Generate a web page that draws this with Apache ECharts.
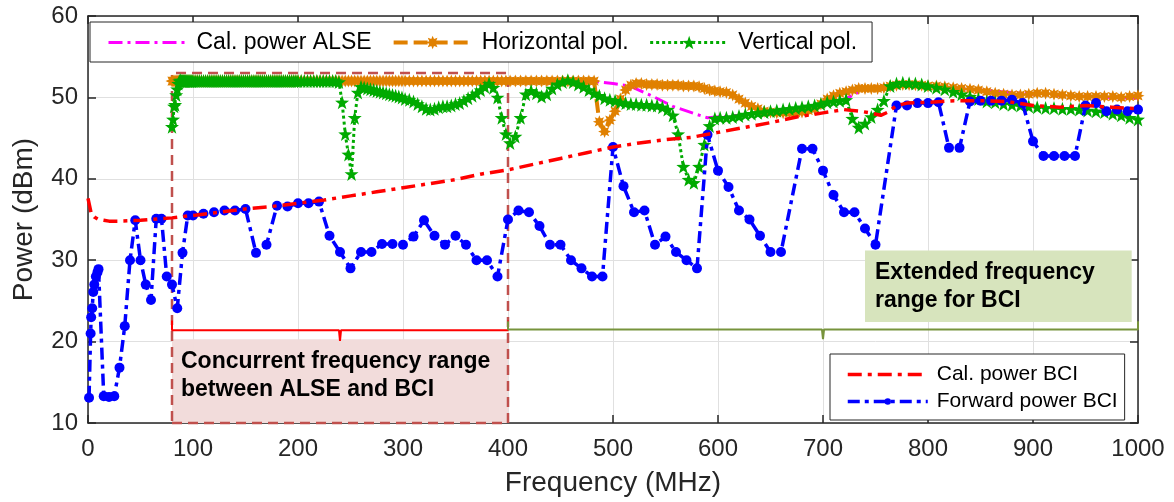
<!DOCTYPE html>
<html>
<head>
<meta charset="utf-8">
<script src="https://cdn.jsdelivr.net/npm/echarts@6/dist/echarts.min.js"></script>
<style>
  html, body { margin: 0; padding: 0; background: #ffffff; }
  #chart { width: 1174px; height: 502px; }
</style>
</head>
<body>
<div id="chart"></div>
<script>
// ---------- BCI: calibration power (MHz, dBm) ----------
const bciCalFreq = [0,3,6,10,15,20,30,40,50,60,70,80,90,100,
  125,150,175,200,225,250,275,300,325,350,375,400,
  425,450,475,500,525,550,575,600,625,650,675,700,
  720,735,745,755,762,770,780,800,
  825,850,875,900,925,950,975,1000];
const bciCalPower = [37.6,35.8,35.3,35.0,34.9,34.8,34.8,34.85,34.9,35.0,35.1,35.2,35.35,35.5,
  35.9,36.3,36.6,37.0,37.4,37.9,38.4,38.9,39.4,39.9,40.6,41.1,
  41.8,42.5,43.2,43.9,44.4,44.8,45.1,45.7,46.3,46.9,47.6,48.1,
  48.5,48.3,48.1,47.8,48.2,49.0,49.3,49.4,
  49.6,49.6,49.5,49.0,48.8,49.0,48.8,48.6];

// ---------- BCI: forward power (MHz, dBm) ----------
const bciFwdFreq = [1,2.5,3,4,5,6,7.5,9,10,
  15,20,25,30,35,40,45,50,55,60,65,70,75,80,85,90,95,100,
  110,120,130,140,150,160,170,180,190,200,210,220,230,240,250,260,270,280,290,300,
  310,320,330,340,350,360,370,380,390,400,410,420,430,440,450,460,470,480,490,500,
  510,520,530,540,550,560,570,580,590,600,610,620,630,640,650,660,
  680,690,700,710,720,730,740,750,
  770,780,790,800,810,820,830,840,850,860,870,880,890,900,910,920,930,940,950,960,970,980,990,1000];
const bciFwdPower = [13.1,21.0,23.0,24.1,26.1,27.0,28.0,28.5,28.9,
  13.3,13.2,13.3,16.8,21.9,30.0,34.9,30.0,27.0,25.1,35.1,35.1,28.0,27.0,24.1,30.9,35.5,35.5,
  35.7,35.9,36.1,36.1,36.3,30.9,31.9,36.7,36.6,37.0,37.0,37.2,33.0,31.0,29.0,31.0,31.0,32.0,32.0,31.9,
  32.9,34.9,33.0,31.9,33.0,31.9,30.0,30.0,28.0,35.0,36.1,35.9,34.2,31.9,31.9,30.0,29.0,28.0,28.0,43.9,
  39.1,35.9,36.1,31.9,32.9,31.0,30.0,29.0,45.4,41.0,39.0,36.1,35.0,33.0,31.0,31.0,
  43.7,43.7,41.0,38.0,35.9,35.9,33.9,31.9,
  49.0,49.0,49.3,49.3,49.4,43.8,43.8,49.5,49.6,49.6,49.6,49.7,49.3,44.6,42.8,42.8,42.8,42.8,49.0,49.3,48.3,48.5,48.3,48.5];

// ---------- ALSE: calibration power (MHz, dBm) ----------
const alseCalFreq = [80,150,250,350,450,480,500,516,540,557,580,590,620,650,680,700,720,730,740,750,770,800,850,900,950,1000];
const alseCalPower = [52.0,52.0,52.0,52.0,52.0,52.0,51.7,51.4,50.0,48.9,47.9,47.5,47.8,48.3,48.7,49.0,49.7,50.4,51.0,51.3,51.5,51.3,50.9,50.4,50.1,49.9];

// ---------- ALSE: measured antenna polarisations (MHz, dBm) ----------
const alseFreq = [
  80,81,82,83,84,85,86,87,88,89,90,91,92,93,94,95,96,97,98,99,100,
  102,104,106,108,110,112,114,116,118,120,122,124,126,128,130,132,134,136,138,140,142,144,146,148,150,
  152,154,156,158,160,162,164,166,168,170,172,174,176,178,180,182,184,186,188,190,192,194,196,198,200,
  203,206,209,212,215,218,221,224,227,230,233,236,239,242,245,248,251,254,257,260,263,266,269,272,275,278,281,284,287,290,293,296,299,302,
  306,310,314,318,322,326,330,334,338,342,346,350,354,358,362,366,370,374,378,382,386,390,394,398,402,
  407,412,417,422,427,432,437,442,447,452,457,462,467,472,477,482,487,492,497,502,
  507,512,517,522,527,532,537,542,547,552,557,562,567,572,577,582,587,592,597,602,
  608,614,620,626,632,638,644,650,656,662,668,674,680,686,692,698,704,710,716,722,728,734,740,746,752,758,764,770,776,782,788,794,800,
  808,816,824,832,840,848,856,864,872,880,888,896,904,912,920,928,936,944,952,960,968,976,984,992,1000];

const horizontalPol = [
  52.0,52.0,52.0,52.0,52.0,52.0,52.0,52.0,52.0,52.0,52.0,52.0,52.0,52.0,52.0,52.0,52.0,52.0,52.0,52.0,52.0,
  52.0,52.0,52.0,52.0,52.0,52.0,52.0,52.0,52.0,52.0,52.0,52.0,52.0,52.0,52.0,52.0,52.0,52.0,52.0,52.0,52.0,52.0,52.0,52.0,52.0,
  52.0,52.0,52.0,52.0,52.0,52.0,52.0,52.0,52.0,52.0,52.0,52.0,52.0,52.0,52.0,52.0,52.0,52.0,52.0,52.0,52.0,52.0,52.0,52.0,52.0,
  52.0,52.0,52.0,52.0,52.0,52.0,52.0,52.0,52.0,52.0,52.0,52.0,52.0,52.0,52.0,52.0,52.0,52.0,52.0,52.0,52.0,52.0,52.0,52.0,52.0,52.0,52.0,52.0,52.0,52.0,52.0,52.0,52.0,52.0,
  52.0,52.0,52.0,52.0,52.0,52.0,52.0,52.0,52.0,52.0,52.0,52.0,52.0,52.0,52.0,52.0,52.0,52.0,52.0,52.0,52.0,52.0,52.0,52.0,52.0,
  52.0,52.0,52.0,52.0,52.0,52.0,52.0,52.0,52.0,52.0,52.0,52.0,52.0,52.0,52.0,52.0,47.0,45.8,47.2,48.3,
  49.8,50.9,51.5,51.7,51.7,51.6,51.6,51.6,51.5,51.5,51.5,51.5,51.4,51.4,51.4,51.3,51.1,50.9,50.8,50.7,
  50.6,50.3,49.8,49.3,48.9,48.6,48.3,48.2,48.1,48.1,48.1,48.1,48.2,48.4,48.6,49.2,49.8,50.2,50.5,50.7,50.9,51.1,51.1,51.1,51.1,51.2,51.4,51.5,51.6,51.6,51.55,51.5,51.4,
  51.4,51.3,51.2,51.1,51.0,50.9,50.7,50.5,50.4,50.3,50.3,50.4,50.5,50.5,50.4,50.3,50.2,50.1,50.1,50.1,50.1,50.1,50.0,50.1,50.2];

const verticalPol = [
  46.4,47.3,48.9,49.1,50.3,51.0,51.7,52.0,52.1,52.0,52.0,52.0,52.0,52.0,52.0,52.0,52.0,52.0,52.0,52.0,52.0,
  52.0,52.0,52.0,52.0,52.0,52.0,52.0,52.0,52.0,52.0,52.0,52.0,52.0,52.0,52.0,52.0,52.0,52.0,52.0,52.0,52.0,52.0,52.0,52.0,52.0,
  52.0,52.0,52.0,52.0,52.0,52.0,52.0,52.0,52.0,52.0,52.0,52.0,52.0,52.0,52.0,52.0,52.0,52.0,52.0,52.0,52.0,52.0,52.0,52.0,52.0,
  52.0,52.0,52.0,52.0,52.0,52.0,52.0,52.0,52.0,52.0,52.0,52.0,51.9,49.4,45.5,43.0,40.6,47.5,50.6,51.3,51.2,51.1,51.0,50.9,50.8,50.7,50.6,50.5,50.4,50.3,50.2,50.1,50.0,49.8,
  49.7,49.5,49.2,48.9,48.6,48.5,48.6,48.8,48.9,48.9,49.0,49.2,49.3,49.6,49.9,50.2,50.5,50.9,51.3,51.7,51.2,50.0,47.5,45.5,44.4,
  45.2,47.5,50.4,50.8,50.5,50.1,50.4,51.1,51.6,51.9,52.1,51.9,51.6,51.3,50.9,50.5,50.2,49.9,49.7,49.6,
  49.4,49.3,49.2,49.2,49.1,49.1,49.0,49.0,48.8,48.5,47.8,45.5,41.5,39.9,39.5,41.5,44.2,46.5,47.4,47.5,
  47.5,47.6,47.7,47.9,48.0,48.1,48.2,48.3,48.4,48.5,48.6,48.7,48.8,48.9,49.0,49.2,49.4,49.5,49.6,49.7,47.4,46.3,46.8,47.6,48.5,49.6,51.4,51.7,51.8,51.75,51.7,51.6,51.4,
  51.2,51.0,50.7,50.4,50.1,49.8,49.5,49.4,49.2,49.1,49.0,48.9,48.8,48.7,48.7,48.6,48.6,48.5,48.4,48.3,48.2,48.0,47.8,47.5,47.3];

// ---------- axis ranges ----------
const freqAxis = { min: 0, max: 1000, step: 100 };
const powerAxis = { min: 10, max: 60, step: 10 };

// ---------- annotation geometry (data units) ----------
const concurrentRange = [80, 400];
const extendedRange = [400, 1000];

const pairs = (xs, ys) => xs.map((x, i) => [x, ys[i]]);

const FONT = '"Liberation Sans", Arial, Helvetica, sans-serif';
const INK = '#262626';

// line styles shared by plot and legend
const STYLE = {
  alseCal: { color: '#ff00ff', width: 3, type: [14, 5, 3, 5] },
  hPol: { color: '#e08000', width: 4, type: [14, 6] },
  vPol: { color: '#00aa00', width: 3, type: [3, 3] },
  bciFwd: { color: '#0000ff', width: 3.5, type: [12, 5, 4, 5] },
  bciCal: { color: '#ff0000', width: 3.5, type: [14, 6, 4, 6] }
};

// filled five-point star and eight-arm asterisk markers
const STAR = 'path://M0,-1L0.235,-0.324L0.951,-0.309L0.38,0.124L0.588,0.809L0,0.4L-0.588,0.809L-0.38,0.124L-0.951,-0.309L-0.235,-0.324Z';
const ASTERISK = 'path://M1,0L0.5,0.2L0.71,0.71L0.2,0.5L0,1L-0.2,0.5L-0.71,0.71L-0.5,0.2L-1,0L-0.5,-0.2L-0.71,-0.71L-0.2,-0.5L0,-1L0.2,-0.5L0.71,-0.71L0.5,-0.2Z';

const chart = echarts.init(document.getElementById('chart'), null, { renderer: 'canvas' });

const boxLabel = (text, pos) => ({
  show: true, position: pos, formatter: text,
  fontFamily: FONT, fontSize: 23, fontWeight: 'bold', color: '#000', lineHeight: 28,
  align: 'left', verticalAlign: 'top'
});

// square brace with a short centre tick pointing down
const bracket = (range, yLine, yEnd, yTip) => {
  const mid = (range[0] + range[1]) / 2;
  return [[range[0], yEnd], [range[0], yLine], [mid - 1, yLine], [mid, yTip], [mid + 1, yLine], [range[1], yLine], [range[1], yEnd]];
};

const axisCommon = {
  axisLine: { show: true, onZero: false, lineStyle: { color: INK, width: 1.5 } },
  axisTick: { show: true, inside: true, length: 8, lineStyle: { color: INK, width: 1.5 } }
};

const option = {
  animation: false,
  backgroundColor: '#ffffff',
  textStyle: { fontFamily: FONT },
  grid: { left: 88, top: 16, width: 1050, height: 408, containLabel: false },
  xAxis: [
    Object.assign({
      type: 'value', min: freqAxis.min, max: freqAxis.max, interval: freqAxis.step, position: 'bottom',
      axisLabel: { fontSize: 24, color: INK, margin: 14, fontFamily: FONT, formatter: v => String(v) },
      splitLine: { show: true, lineStyle: { color: '#e0e0e0', width: 1 } },
      name: 'Frequency (MHz)', nameLocation: 'middle', nameGap: 46,
      nameTextStyle: { fontSize: 28, color: INK, fontFamily: FONT }
    }, axisCommon),
    Object.assign({
      type: 'value', min: freqAxis.min, max: freqAxis.max, interval: freqAxis.step, position: 'top',
      axisLabel: { show: false }, splitLine: { show: false }
    }, axisCommon)
  ],
  yAxis: [
    Object.assign({
      type: 'value', min: powerAxis.min, max: powerAxis.max, interval: powerAxis.step, position: 'left',
      axisLabel: { fontSize: 24, color: INK, margin: 10, fontFamily: FONT, formatter: v => String(v) },
      splitLine: { show: true, lineStyle: { color: '#e0e0e0', width: 1 } },
      name: 'Power (dBm)', nameLocation: 'middle', nameGap: 50,
      nameTextStyle: { fontSize: 28, color: INK, fontFamily: FONT }
    }, axisCommon),
    Object.assign({
      type: 'value', min: powerAxis.min, max: powerAxis.max, interval: powerAxis.step, position: 'right',
      axisLabel: { show: false }, splitLine: { show: false }
    }, axisCommon)
  ],
  legend: [
    {
      data: [
        { name: 'Cal. power ALSE', itemStyle: { opacity: 0 }, lineStyle: STYLE.alseCal },
        { name: 'Horizontal pol.', lineStyle: STYLE.hPol },
        { name: 'Vertical pol.', lineStyle: STYLE.vPol }
      ],
      orient: 'horizontal', left: 90, top: 22,
      padding: [9, 15, 8, 17], itemGap: 20, itemWidth: 78, itemHeight: 17,
      backgroundColor: '#ffffff', borderColor: INK, borderWidth: 1, borderRadius: 0,
      selectedMode: false,
      textStyle: { fontSize: 23, color: '#000', fontFamily: FONT, padding: [0, 0, 0, 5] }
    },
    {
      data: [
        { name: 'Cal. power BCI', itemStyle: { opacity: 0 }, lineStyle: STYLE.bciCal },
        { name: 'Forward power BCI', lineStyle: STYLE.bciFwd }
      ],
      orient: 'vertical', left: 830, top: 354,
      padding: [10, 7, 8, 16], itemGap: 6, itemWidth: 80, itemHeight: 8,
      backgroundColor: '#ffffff', borderColor: INK, borderWidth: 1, borderRadius: 0,
      selectedMode: false,
      textStyle: { fontSize: 21, color: '#000', fontFamily: FONT, padding: [0, 0, 0, 4] }
    }
  ],
  series: [
    {
      // shaded boxes explaining the two frequency ranges
      name: 'range boxes', type: 'line', data: [], silent: true, z: 1,
      markArea: {
        silent: true,
        data: [
          [
            { coord: [concurrentRange[0], powerAxis.min], itemStyle: { color: '#f2dcdb' },
              label: boxLabel('Concurrent frequency range\nbetween ALSE and BCI', [9, 8]) },
            { coord: [concurrentRange[1], 20.3] }
          ],
          [
            { coord: [740, 22.4], itemStyle: { color: '#d7e4bd' },
              label: boxLabel('Extended frequency\nrange for BCI', [10, 8]) },
            { coord: [994, 31.2] }
          ]
        ]
      }
    },
    {
      name: 'Cal. power ALSE', type: 'line', z: 2,
      data: pairs(alseCalFreq, alseCalPower),
      symbol: 'none',
      lineStyle: STYLE.alseCal,
      itemStyle: { color: STYLE.alseCal.color },
      emphasis: { disabled: true }
    },
    {
      name: 'Horizontal pol.', type: 'line', z: 3,
      data: pairs(alseFreq, horizontalPol),
      symbol: ASTERISK, symbolSize: 13,
      lineStyle: STYLE.hPol,
      itemStyle: { color: STYLE.hPol.color },
      emphasis: { disabled: true }
    },
    {
      name: 'Vertical pol.', type: 'line', z: 4,
      data: pairs(alseFreq, verticalPol),
      symbol: STAR, symbolSize: 14,
      lineStyle: STYLE.vPol,
      itemStyle: { color: STYLE.vPol.color },
      emphasis: { disabled: true }
    },
    {
      name: 'Forward power BCI', type: 'line', z: 5,
      data: pairs(bciFwdFreq, bciFwdPower),
      symbol: 'circle', symbolSize: 10,
      lineStyle: STYLE.bciFwd,
      itemStyle: { color: STYLE.bciFwd.color },
      emphasis: { disabled: true }
    },
    {
      name: 'Cal. power BCI', type: 'line', z: 6,
      data: pairs(bciCalFreq, bciCalPower),
      symbol: 'none',
      lineStyle: STYLE.bciCal,
      itemStyle: { color: STYLE.bciCal.color },
      emphasis: { disabled: true }
    },
    {
      // dashed outline of the concurrent range
      name: 'concurrent outline', type: 'line', data: [], silent: true, z: 7,
      markArea: {
        silent: true,
        data: [[
          { coord: [concurrentRange[0], powerAxis.min],
            itemStyle: { color: 'rgba(0,0,0,0)', borderColor: '#c0504d', borderWidth: 2.5, borderType: [10, 6] } },
          { coord: [concurrentRange[1], 53.0] }
        ]]
      }
    },
    {
      name: 'concurrent brace', type: 'line', silent: true, z: 8,
      data: bracket(concurrentRange, 21.4, 22.6, 20.1),
      symbol: 'none', lineStyle: { color: '#ff0000', width: 2 }
    },
    {
      name: 'extended brace', type: 'line', silent: true, z: 8,
      data: bracket(extendedRange, 21.5, 22.5, 20.3),
      symbol: 'none', lineStyle: { color: '#77933c', width: 2 }
    }
  ]
};

chart.setOption(option);
</script>
</body>
</html>
